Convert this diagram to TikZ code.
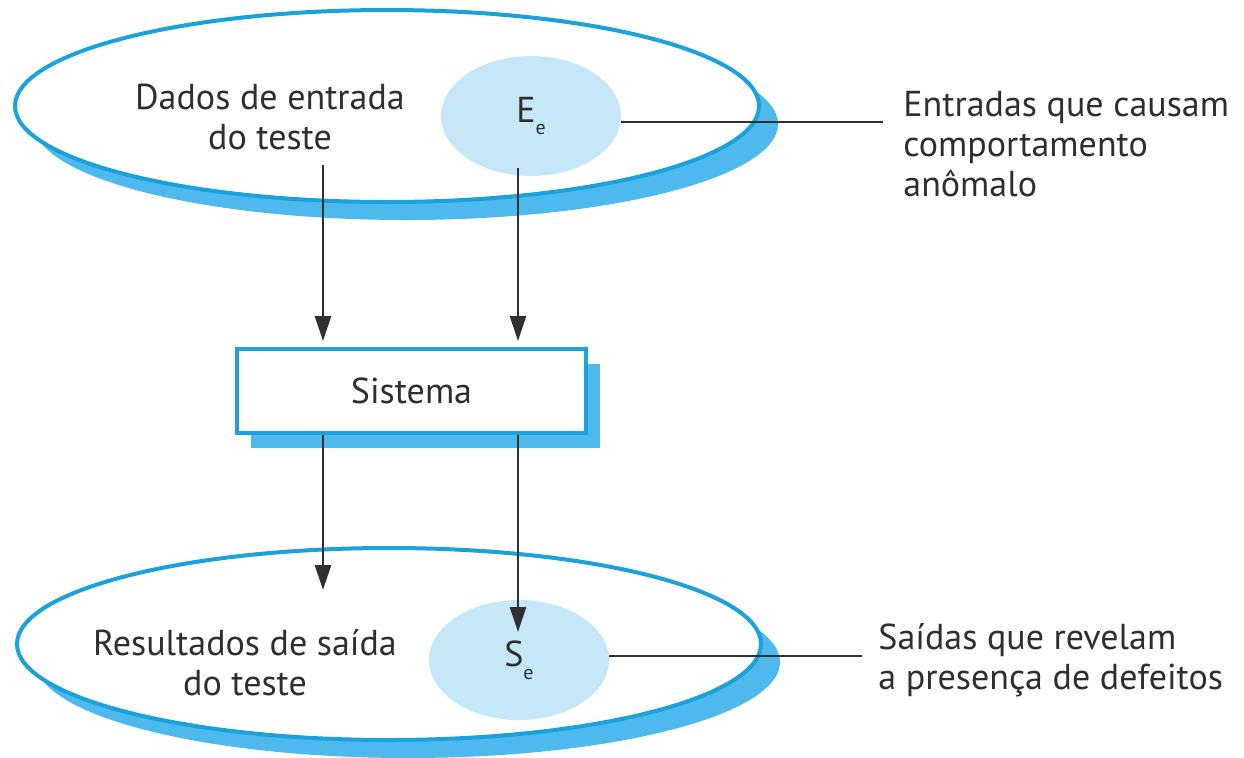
\documentclass[tikz,border=0pt]{standalone}
\usepackage{fontspec}
\setmainfont{PT Sans}
\usetikzlibrary{shapes.geometric,shadows,arrows.meta}
\definecolor{ebord}{HTML}{1BA1DC}
\definecolor{eshadow}{HTML}{4DB9EC}
\definecolor{ecirc}{HTML}{C6E7F8}
\definecolor{txt}{HTML}{2E2E2E}
\definecolor{lnc}{HTML}{303030}
\begin{document}
\begin{tikzpicture}[x=0.5pt,y=-0.5pt,
  bigell/.style={ellipse, draw=ebord, line width=2pt, fill=white,
    minimum width=372pt, minimum height=96pt, inner sep=0pt,
    general shadow={fill=eshadow, shadow xshift=9.5pt, shadow yshift=-9pt}},
  subset/.style={ellipse, fill=ecirc, minimum width=90pt, minimum height=60pt,
    inner sep=0pt, text=txt, font=\fontsize{18}{20}\selectfont},
  sysbox/.style={rectangle, draw=ebord, line width=2pt, fill=white,
    minimum width=174.5pt, minimum height=42pt, inner sep=0pt, text=txt,
    font=\fontsize{18}{20}\selectfont,
    general shadow={fill=eshadow, shadow xshift=7pt, shadow yshift=-7.5pt}},
  lbl/.style={text=txt, align=center, inner sep=0pt, font=\fontsize{18}{20}\selectfont},
  arr/.style={draw=lnc, line width=1.3pt, -{Triangle[length=12.5pt,width=8pt]}},
  lead/.style={draw=lnc, line width=1.4pt}]
\useasboundingbox (0,0) rectangle (1244,757);
% big ellipses
\node[bigell] (top) at (387,106) {};
\node[bigell] (bot) at (389,644) {};
% subsets
\node[subset] (Ee) at (531,116) {E\raisebox{-0.7ex}{\fontsize{10}{10}\selectfont e}};
\node[subset] (Se) at (519,660) {S\raisebox{-0.7ex}{\fontsize{10}{10}\selectfont e}};
% system
\node[sysbox] (sys) at (411.5,391) {Sistema};
% labels
\node[lbl] (dados) at (270,117) {Dados de entrada\\do teste};
\node[lbl] (res) at (245,663) {Resultados de saída\\do teste};
\node[lbl, anchor=west, align=left] (t1) at (903,144) {Entradas que causam\\comportamento\\anômalo};
\node[lbl, anchor=west, align=left] (t2) at (878,660) {Saídas que revelam\\a presença de defeitos};
% coordinates
\coordinate (xl) at (323,0);
\coordinate (xr) at (518,0);
\coordinate (a1) at (323,165);
\coordinate (b1) at (323,590);
\coordinate (b2) at (518,632);
\coordinate (c1) at (883,122);
\coordinate (c2) at (862,656);
% arrows
\draw[arr, shorten >=3pt] (a1) -- (sys.north -| xl);
\draw[arr, shorten >=3pt] ([yshift=4pt]Ee.south -| xr) -- (sys.north -| xr);
\draw[arr] (sys.south -| xl) -- (b1);
\draw[arr] (sys.south -| xr) -- (b2);
% leaders
\draw[lead] (Ee.east |- c1) -- (c1);
\draw[lead] (Se.east |- c2) -- (c2);
\end{tikzpicture}
\end{document}
